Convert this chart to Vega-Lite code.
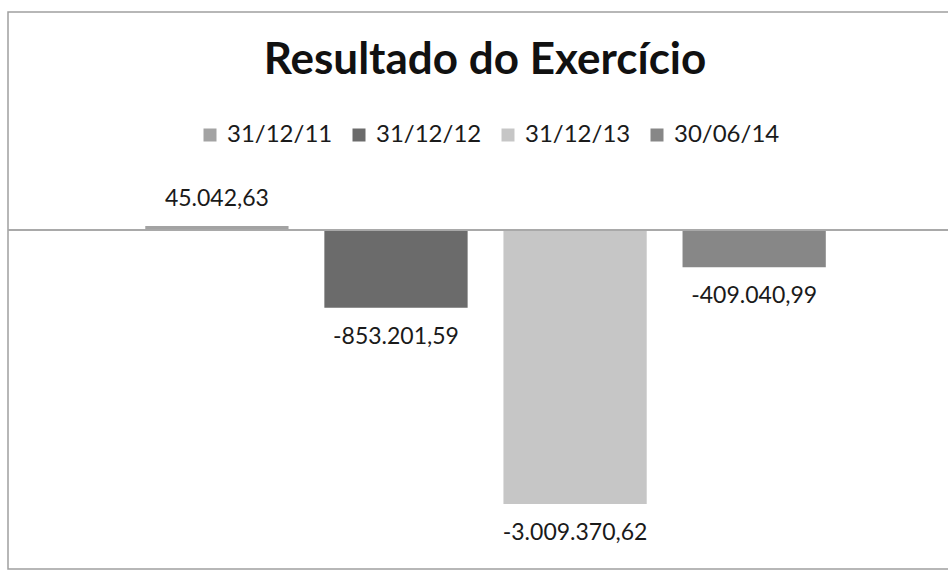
{
  "$schema": "https://vega.github.io/schema/vega-lite/v6.json",
  "autosize": "none",
  "width": 942,
  "height": 557,
  "padding": {"left": 8, "top": 12, "right": 0, "bottom": 4},
  "background": "white",
  "config": {
    "locale": {"number": {"decimal": ",", "thousands": ".", "grouping": [3], "currency": ["R$ ", ""], "minus": "-"}},
    "view": {"stroke": "#a0a0a0", "strokeWidth": 1.5},
    "font": "Lato"
  },
  "title": {
    "text": "Resultado do Exercício",
    "font": "Lato",
    "fontSize": 44,
    "fontWeight": "bold",
    "color": "#111111",
    "anchor": "middle",
    "baseline": "alphabetic",
    "offset": -106,
    "dx": 6
  },
  "data": {
    "values": [
      {"periodo": "31/12/11", "resultado": 45042.63},
      {"periodo": "31/12/12", "resultado": -853201.59},
      {"periodo": "31/12/13", "resultado": -3009370.62},
      {"periodo": "30/06/14", "resultado": -409040.99}
    ]
  },
  "layer": [
    {
      "mark": {"type": "bar"},
      "encoding": {
        "x": {"field": "periodo", "type": "nominal", "sort": null, "axis": null,
              "scale": {"paddingInner": 0.2, "paddingOuter": 0.73, "align": 0.525}},
        "y": {"field": "resultado", "type": "quantitative", "axis": null,
              "scale": {"domain": [-3723000, 2394000], "nice": false, "zero": false}},
        "color": {
          "field": "periodo", "type": "nominal", "sort": null,
          "scale": {"domain": ["31/12/11", "31/12/12", "31/12/13", "30/06/14"],
                    "range": ["#a3a3a3", "#6b6b6b", "#c6c6c6", "#878787"]},
          "legend": {
            "orient": "none",
            "legendX": 190,
            "legendY": 111,
            "direction": "horizontal",
            "title": null,
            "symbolType": "square",
            "symbolSize": 169,
            "symbolStrokeWidth": 0,
            "labelFont": "Lato",
            "labelFontSize": 24,
            "labelColor": "#1a1a1a",
            "labelOffset": 5,
            "columnPadding": 14
          }
        }
      }
    },
    {
      "mark": {"type": "rule", "color": "#a8a8a8", "strokeWidth": 1.5},
      "encoding": {"y": {"datum": 0, "type": "quantitative"}}
    },
    {
      "transform": [{"filter": "datum.resultado >= 0"}],
      "mark": {"type": "text", "baseline": "middle", "dy": -27, "font": "Lato", "fontSize": 23, "color": "#1a1a1a"},
      "encoding": {
        "x": {"field": "periodo", "type": "nominal", "sort": null},
        "y": {"field": "resultado", "type": "quantitative"},
        "text": {"field": "resultado", "type": "quantitative", "format": ",.2f"}
      }
    },
    {
      "transform": [{"filter": "datum.resultado < 0"}],
      "mark": {"type": "text", "baseline": "middle", "dy": 29, "font": "Lato", "fontSize": 23, "color": "#1a1a1a"},
      "encoding": {
        "x": {"field": "periodo", "type": "nominal", "sort": null},
        "y": {"field": "resultado", "type": "quantitative"},
        "text": {"field": "resultado", "type": "quantitative", "format": ",.2f"}
      }
    }
  ]
}
